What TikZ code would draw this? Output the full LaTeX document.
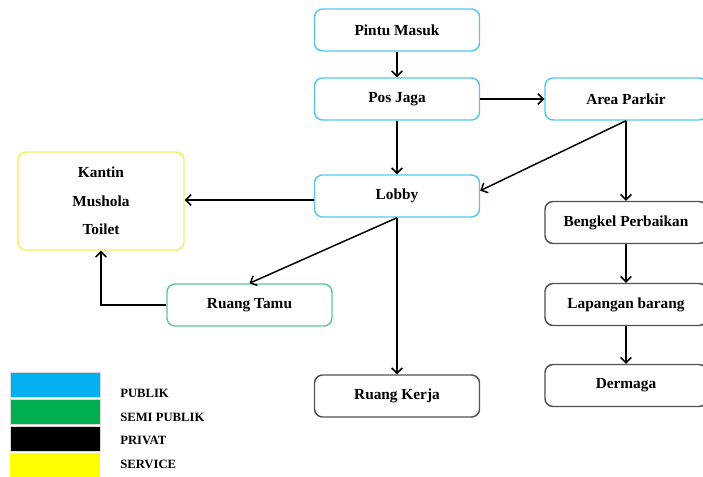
\documentclass[tikz,border=0pt]{standalone}
\usepackage{fontspec}
\setmainfont{Liberation Serif}
\usetikzlibrary{arrows.meta}
\definecolor{pubborder}{RGB}{86,198,240}
\definecolor{semiborder}{RGB}{96,200,140}
\definecolor{servborder}{RGB}{244,238,90}
\definecolor{privborder}{RGB}{80,80,80}
\definecolor{pubfill}{RGB}{0,176,240}
\definecolor{semifill}{RGB}{0,176,80}
\definecolor{servfill}{RGB}{255,255,0}
\tikzset{
  room/.style={draw, line width=1.1pt, rounded corners=6pt, minimum width=123.75pt,
    minimum height=31.5pt, inner sep=0pt, font=\fontsize{11.5}{13}\selectfont\bfseries, align=center},
  wideroom/.style={minimum width=121.5pt},
  publik/.style={room, draw=pubborder},
  semi/.style={room, draw=semiborder},
  privat/.style={room, draw=privborder},
  service/.style={room, draw=servborder},
  flow/.style={draw=black, line width=1.1pt, -{Straight Barb[length=4pt,width=8pt,line width=1.1pt]}},
  swatch/.style={draw=black!15, line width=0.4pt, minimum width=67.5pt, minimum height=18.5pt, inner sep=0pt},
  legendtext/.style={anchor=west, font=\fontsize{9.5}{11}\selectfont\bfseries, inner sep=0pt}
}
\begin{document}
\begin{tikzpicture}[x=0.75pt,y=-0.75pt]
\useasboundingbox (0,0) rectangle (703,477);

% rooms
\node[publik] (pintu) at (397,30) {Pintu Masuk};
\node[publik] (pos) at (397,99) {Pos Jaga};
\node[publik, wideroom] (parkir) at (626,99) {Area Parkir};
\node[publik] (lobby) at (397,196) {Lobby};
\node[service, minimum width=124.5pt, minimum height=73.5pt,
      font=\fontsize{11.5}{21.4}\selectfont\bfseries] (kantin) at (101,201) {Kantin\\Mushola\\Toilet};
\node[semi] (tamu) at (249.5,305) {Ruang Tamu};
\node[privat] (kerja) at (397,396) {Ruang Kerja};
\node[privat, wideroom] (bengkel) at (626,222.5) {Bengkel Perbaikan};
\node[privat, wideroom] (lapangan) at (626,304.5) {Lapangan barang};
\node[privat, wideroom] (dermaga) at (626,385.5) {Dermaga};

% circulation
\draw[flow] (pintu) -- (pos);
\draw[flow] (pos.east) -- (pos.east -| parkir.west);
\draw[flow] (pos) -- (lobby);
\draw[flow] (parkir.south) -- ([yshift=4pt]lobby.east);
\draw[flow] (parkir) -- (bengkel);
\draw[flow] ([yshift=-3pt]lobby.west) -- ([yshift=-3pt]lobby.west -| kantin.east);
\draw[flow] (lobby.south) -- (tamu.north);
\draw[flow] (lobby) -- (kerja);
\draw[flow] (tamu.west) -| (kantin.south);
\draw[flow] (bengkel) -- (lapangan);
\draw[flow] (lapangan) -- (dermaga);

% legend
\node[swatch, fill=pubfill] (kpub) at (55,385) {};
\node[swatch, fill=semifill] (ksemi) at (55,411.5) {};
\node[swatch, fill=black] (kpriv) at (55,438.5) {};
\node[swatch, fill=servfill, draw=none] (kserv) at (55,465.5) {};
\node[legendtext] (tpub) at (120,393) {PUBLIK};
\node[legendtext] (tsemi) at (120,417) {SEMI PUBLIK};
\node[legendtext] (tpriv) at (120,440) {PRIVAT};
\node[legendtext] (tserv) at (120,464) {SERVICE};
\end{tikzpicture}
\end{document}
